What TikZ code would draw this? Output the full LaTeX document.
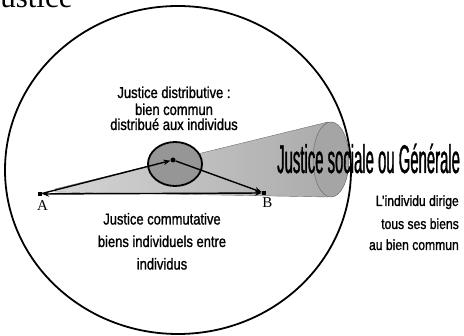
\documentclass[tikz,border=0pt]{standalone}
\usepackage{fontspec}
\setmainfont{Liberation Serif}
\newfontfamily\fmid[FakeStretch=0.82,FakeBold=1.2]{Liberation Sans}
\newfontfamily\fbig[FakeStretch=0.372,FakeBold=0.8]{Liberation Sans}
\usetikzlibrary{arrows.meta}
\definecolor{coneL}{RGB}{212,212,212}
\definecolor{coneR}{RGB}{172,172,172}
\definecolor{coneEnd}{RGB}{165,165,165}
\definecolor{distFill}{RGB}{150,150,150}
\definecolor{coneEdge}{RGB}{110,110,110}
\begin{document}
\begin{tikzpicture}[x=1pt,y=-1pt,
  arr/.style={line width=1.4pt,-{Stealth[length=7pt,width=5.5pt]}},
  dblarr/.style={line width=1.4pt,{Stealth[length=7pt,width=5.5pt]}-{Stealth[length=7pt,width=5.5pt]}},
  pt/.style={fill=black,minimum size=4pt,inner sep=0pt,draw=none,rectangle},
  midtxt/.style={inner sep=0pt,anchor=base,font=\fmid\fontsize{15.8}{18}\selectfont},
  smtxt/.style={inner sep=0pt,anchor=base east,font=\fmid\fontsize{14.8}{17}\selectfont},
  lbl/.style={inner sep=0pt,font=\fontsize{15}{18}\selectfont}]
\useasboundingbox (0,0) rectangle (464,336);
% cone body
\shade[left color=coneL,right color=coneR,draw=coneEdge,line width=0.4pt]
  (55,189) -- (328,122) -- (328,197) -- (55,192) -- cycle;
% cone end
\filldraw[fill=coneEnd,draw=coneEdge,line width=0.5pt] (331,159.5) ellipse [x radius=18pt,y radius=37.5pt];
% distributive ellipse
\filldraw[fill=distFill,draw=black,line width=1.8pt] (175,164) ellipse [x radius=27pt,y radius=22pt];
% points
\node[pt] (A) at (40,194) {};
\node[pt] (B) at (264,193) {};
\node[circle,fill=black,inner sep=0pt,minimum size=5pt] (C) at (173,160) {};
% arrows
\draw[arr] (A) -- (C);
\draw[arr] (C) -- (B);
\draw[dblarr] (A) -- (B);
% labels A B
\node[lbl] (la) at (42.5,206) {A};
\node[lbl] (lb) at (267.5,202.5) {B};
% title
\node[inner sep=0pt,anchor=base west,font=\fontsize{31}{36}\selectfont] (title) at (-12,8) {Justice};
% distributive text
\node[midtxt] (d1) at (174,98) {Justice distributive :};
\node[midtxt] (d2) at (174,115) {bien commun};
\node[midtxt] (d3) at (174,130) {distribué aux individus};
% commutative text
\node[midtxt] (c1) at (162,224.5) {Justice commutative};
\node[midtxt] (c2) at (162,247) {biens individuels entre};
\node[midtxt] (c3) at (162,269.5) {individus};
% social
\node[inner sep=0pt,anchor=base west,font=\fbig\fontsize{40}{44}\selectfont] (soc) at (277,173) {Justice sociale ou Générale};
\node[smtxt] (s1) at (459,206) {L’individu dirige};
\node[smtxt] (s2) at (459,229) {tous ses biens};
\node[smtxt] (s3) at (459,250) {au bien commun};
% big circle
\draw[line width=1.8pt] (178,170) ellipse [x radius=173pt,y radius=164pt];
\end{tikzpicture}
\end{document}
